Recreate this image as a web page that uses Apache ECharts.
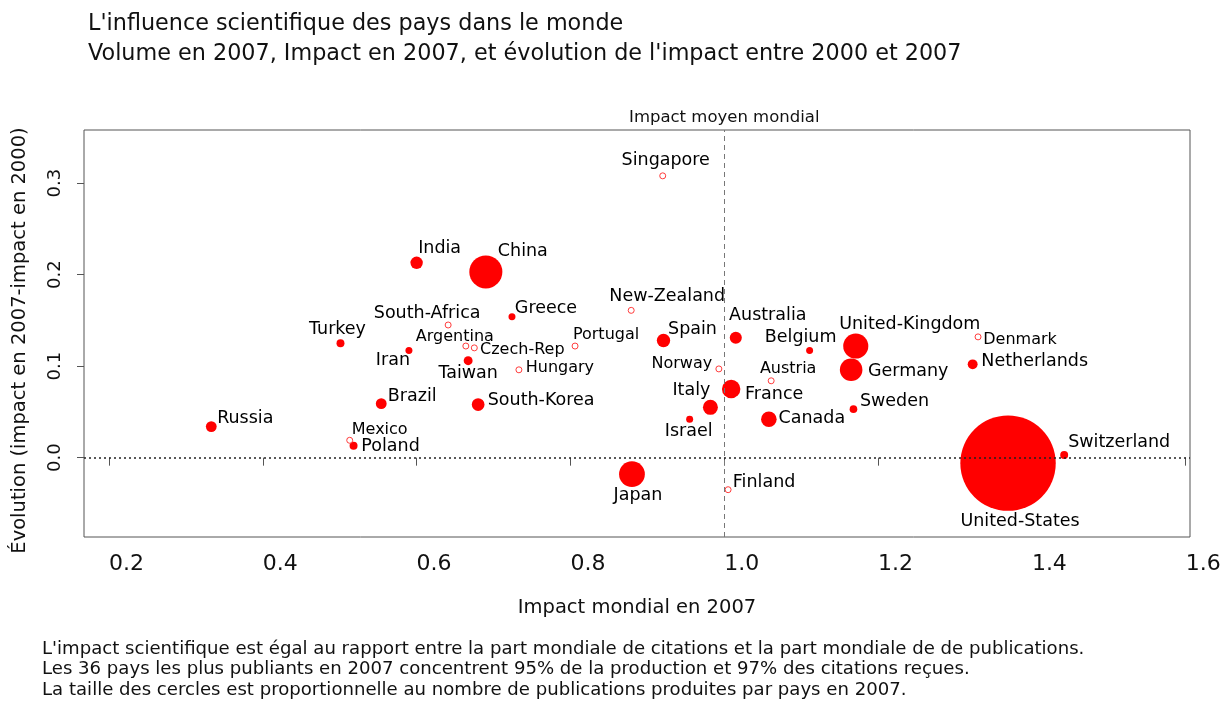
<!DOCTYPE html>
<html>
<head>
<meta charset="utf-8">
<script src="https://cdn.jsdelivr.net/npm/echarts@6/dist/echarts.min.js"></script>
<style>
  html, body { margin: 0; padding: 0; background: #fff; }
  #chart { width: 1231px; height: 702px; }
</style>
</head>
<body>
<div id="chart"></div>
<script>
'use strict';

// pays (36 plus publiants en 2007)
const countries = [
    'Russia', 'Turkey', 'India', 'Iran', 'Brazil', 'Mexico', 'Poland', 'South-Africa',
    'Argentina', 'Czech-Rep', 'Taiwan', 'China', 'South-Korea', 'Greece', 'Hungary',
    'Portugal', 'New-Zealand', 'Japan', 'Singapore', 'Spain', 'Israel', 'Italy',
    'Norway', 'Finland', 'France', 'Australia', 'Canada', 'Austria', 'Belgium',
    'Germany', 'Sweden', 'United-Kingdom', 'Netherlands', 'Denmark', 'United-States',
    'Switzerland'
];
// impact mondial en 2007
const impact2007 = [
    0.333, 0.501, 0.600, 0.590, 0.554, 0.513, 0.518, 0.641,
    0.664, 0.675, 0.667, 0.690, 0.680, 0.724, 0.733,
    0.806, 0.879, 0.880, 0.920, 0.921, 0.955, 0.982,
    0.993, 1.005, 1.009, 1.015, 1.058, 1.061, 1.111,
    1.165, 1.168, 1.171, 1.323, 1.330, 1.369,
    1.442
];
// évolution de l'impact 2000 -> 2007
const evolution = [
    0.034, 0.125, 0.213, 0.117, 0.059, 0.019, 0.013, 0.145,
    0.122, 0.120, 0.106, 0.203, 0.058, 0.154, 0.096,
    0.122, 0.161, -0.018, 0.308, 0.128, 0.042, 0.055,
    0.097, -0.035, 0.075, 0.131, 0.042, 0.084, 0.117,
    0.096, 0.053, 0.122, 0.102, 0.132, -0.006,
    0.003
];
// volume de publications 2007 (milliers, estimé)
const volume = [
    34, 25, 39, 22, 34, 10, 25, 10,
    8, 10, 28, 104, 40, 22, 8,
    9, 8, 81, 7, 42, 22, 47,
    10, 10, 58, 38, 49, 12, 22,
    71, 24, 79, 31, 12, 300,
    25
];
// pays dessinés en cercle vide
const outlined = [
    'Mexico', 'South-Africa', 'Argentina', 'Czech-Rep', 'Hungary', 'Portugal',
    'New-Zealand', 'Singapore', 'Norway', 'Finland', 'Austria', 'Denmark'
];
const xTicks = [0.2, 0.4, 0.6, 0.8, 1.0, 1.2, 1.4, 1.6];
const yTicks = [0.0, 0.1, 0.2, 0.3];

// placement des étiquettes (décalage en px depuis le centre du point)
const labelOffset = {
    'Russia': [34, -8], 'Turkey': [-3, -14], 'India': [23, -14], 'Iran': [-16, 10],
    'Brazil': [31, -7], 'Mexico': [30, -10], 'Poland': [37, 1], 'South-Africa': [-21, -12],
    'Argentina': [-11, -9], 'Czech-Rep': [48, 2], 'Taiwan': [0, 13], 'China': [37, -20],
    'South-Korea': [63, -4], 'Greece': [34, -8], 'Hungary': [41, -2], 'Portugal': [31, -11],
    'New-Zealand': [36, -14], 'Japan': [6, 21], 'Singapore': [3, -15], 'Spain': [29, -11],
    'Israel': [-1, 12], 'Italy': [-19, -17], 'Norway': [-37, -5], 'Finland': [36, -7],
    'France': [43, 5], 'Australia': [32, -22], 'Canada': [43, -1], 'Austria': [17, -12],
    'Belgium': [-9, -13], 'Germany': [57, 2], 'Sweden': [41, -8], 'United-Kingdom': [54, -22],
    'Netherlands': [62, -3], 'Denmark': [42, 3], 'United-States': [12, 58], 'Switzerland': [55, -12]
};
const smallLabels = ['Argentina', 'Norway', 'Portugal', 'Mexico', 'Austria', 'Denmark', 'Hungary', 'Czech-Rep'];

const FONT = 'DejaVu Sans';

function buildData(hollow) {
    let data = [];
    for (let i = 0; i < countries.length; i++) {
        let name = countries[i];
        if ((outlined.indexOf(name) >= 0) !== hollow) continue;
        data.push({
            name: name,
            value: [impact2007[i], evolution[i], volume[i]],
            label: {
                offset: labelOffset[name],
                fontSize: smallLabels.indexOf(name) >= 0 ? 16 : 17.5
            }
        });
    }
    return data;
}

function labelBase() {
    return {
        show: true,
        position: 'inside',
        formatter: '{b}',
        color: '#000',
        opacity: 1,
        fontFamily: FONT,
        textBorderWidth: 0,
        align: 'center',
        verticalAlign: 'middle'
    };
}

let myChart = echarts.init(document.getElementById('chart'));
myChart.setOption({
    animation: false,
    textStyle: { fontFamily: FONT },
    title: {
        text: "L'influence scientifique des pays dans le monde\nVolume en 2007, Impact en 2007, et évolution de l'impact entre 2000 et 2007",
        left: 83,
        top: 4,
        textStyle: { fontSize: 22.3, fontWeight: 'normal', color: '#111', lineHeight: 30, fontFamily: FONT }
    },
    grid: {
        left: 84, right: 41, top: 130, bottom: 165,
        show: true, borderColor: '#555', borderWidth: 1, backgroundColor: 'transparent'
    },
    xAxis: {
        type: 'value',
        min: 0.1675, max: 1.6056,
        name: 'Impact mondial en 2007',
        nameLocation: 'middle',
        nameGap: 61,
        nameTextStyle: { fontSize: 19.5, color: '#111', fontFamily: FONT },
        splitLine: { show: false },
        axisLine: { show: false },
        axisTick: { show: true, length: 8, customValues: xTicks, lineStyle: { color: '#555' } },
        axisLabel: {
            customValues: xTicks, fontSize: 22, color: '#111', align: 'left', margin: 16,
            formatter: function (v) { return v.toFixed(1); }
        }
    },
    yAxis: {
        type: 'value',
        min: -0.0867, max: 0.3581,
        name: 'Évolution (impact en 2007-impact en 2000)',
        nameLocation: 'middle',
        nameGap: 54,
        nameTextStyle: { fontSize: 19.5, color: '#111', fontFamily: FONT, padding: [0, 14, 0, 0] },
        splitLine: { show: false },
        axisLine: { show: false },
        axisTick: { show: true, length: 7, customValues: yTicks, lineStyle: { color: '#555' } },
        axisLabel: {
            customValues: yTicks, fontSize: 18, color: '#111', rotate: 90, margin: 20,
            formatter: function (v) { return v.toFixed(1); }
        }
    },
    series: [
        {
            type: 'scatter',
            name: 'filled',
            symbol: 'circle',
            symbolSize: function (val) { return val[2] * 0.318; },
            itemStyle: { color: '#ff0000', opacity: 1 },
            label: labelBase(),
            data: buildData(false),
            z: 3,
            markLine: {
                silent: true,
                symbol: ['none', 'none'],
                data: [
                    {
                        xAxis: 1.0,
                        lineStyle: { type: [5, 4], color: '#777', width: 1 },
                        label: {
                            show: true, position: 'end', formatter: 'Impact moyen mondial',
                            fontSize: 16.5, color: '#111', fontFamily: FONT, distance: 4
                        }
                    },
                    {
                        yAxis: 0,
                        lineStyle: { type: [2, 3], color: '#222', width: 1.5 },
                        label: { show: false }
                    }
                ]
            }
        },
        {
            type: 'scatter',
            name: 'outlined',
            symbol: 'circle',
            symbolSize: 6,
            itemStyle: { color: '#fff', borderColor: '#ff3b3b', borderWidth: 1, opacity: 1 },
            label: labelBase(),
            data: buildData(true),
            z: 4
        }
    ],
    graphic: [{
        type: 'text',
        left: 42,
        top: 639,
        style: {
            text: "L'impact scientifique est égal au rapport entre la part mondiale de citations et la part mondiale de de publications.\nLes 36 pays les plus publiants en 2007 concentrent 95% de la production et 97% des citations reçues.\nLa taille des cercles est proportionnelle au nombre de publications produites par pays en 2007.",
            font: '18.1px "DejaVu Sans"',
            lineHeight: 20.5,
            fill: '#111'
        }
    }]
});
</script>
</body>
</html>
